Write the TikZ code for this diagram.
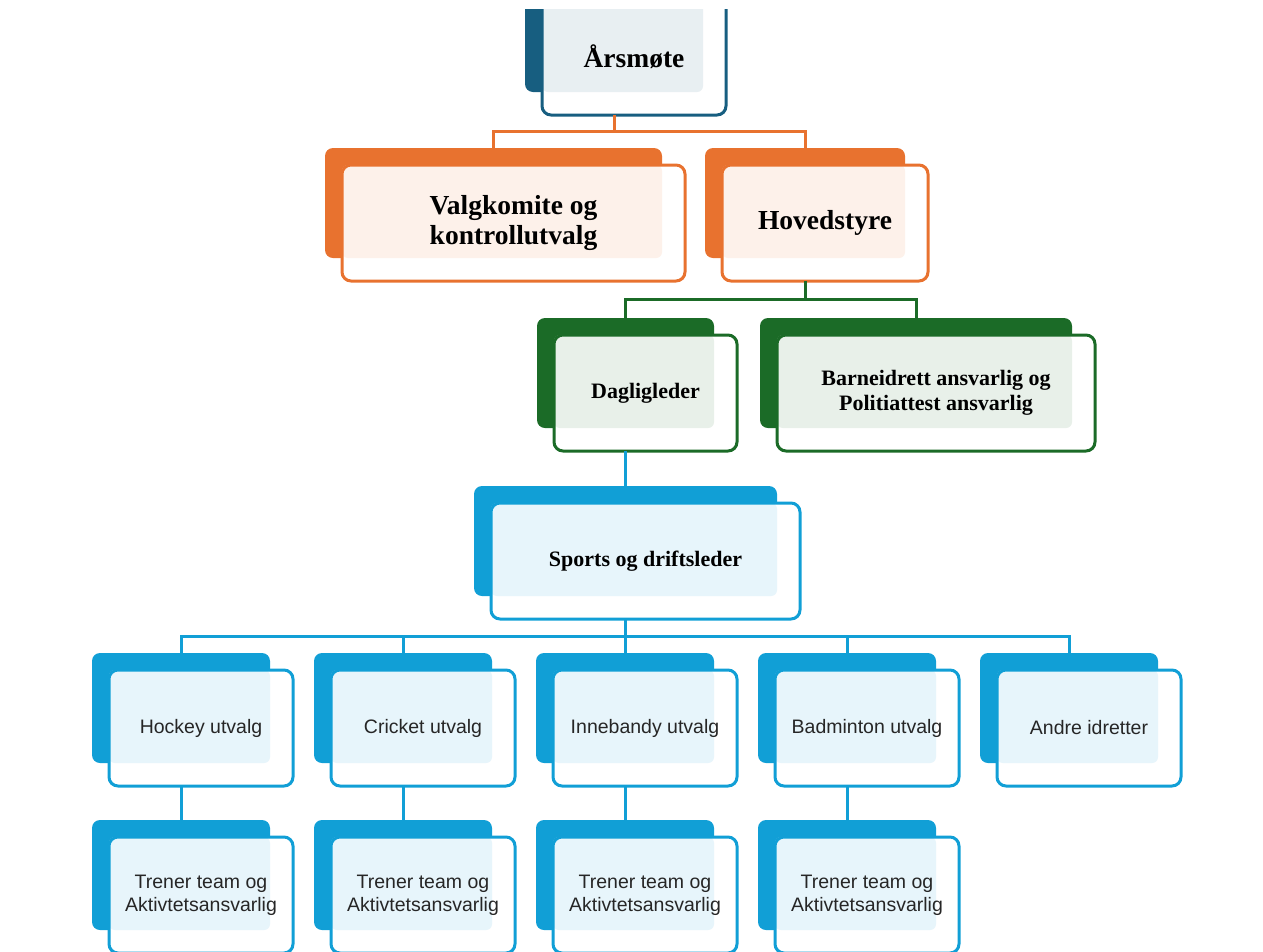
\documentclass[tikz,border=0pt]{standalone}
\usepackage{fontspec}
\setmainfont{Liberation Serif}
\newfontfamily\labelsans{Liberation Sans}
\usetikzlibrary{calc, positioning}

\definecolor{moteblue}{HTML}{175E80}
\definecolor{valgorange}{HTML}{E8722F}
\definecolor{styregreen}{HTML}{1B6B27}
\definecolor{sportblue}{HTML}{119FD6}
\definecolor{labelgrey}{HTML}{262626}

% #1 name, #2 top left of the solid shape, #3 its width, #4 colour, #5 text style, #6 text
\newcommand{\orgbox}[6]{%
    \node[backbox, fill=#4, minimum width=#3pt, anchor=north west] (#1-back) at #2 {};
    \fill[white, rounded corners=9pt] ($(#1-back.north west)+(17,17)$) rectangle ++(#3+6, 116);
    \fill[#4!10, rounded corners=6pt] ($(#1-back.north west)+(17,17)$) rectangle (#1-back.south east);
    \node[frontbox, draw=#4, minimum width={#3pt+6pt}, #5, anchor=north west] (#1) at ($(#1-back.north west)+(17,17)$) {#6};
}

\begin{document}
\begin{tikzpicture}[x=1pt, y=-1pt,
        backbox/.style={rectangle, rounded corners=8pt, minimum height=110pt, inner sep=0pt, outer sep=0pt},
        frontbox/.style={rectangle, rounded corners=9pt, line width=3pt, minimum height=116pt, inner sep=0pt, outer sep=0pt, align=center},
        headtext/.style={font=\bfseries\fontsize{27.5}{30}\selectfont},
        midtext/.style={font=\bfseries\fontsize{22}{25}\selectfont},
        unittext/.style={font=\labelsans\fontsize{19.5}{23}\selectfont, text=labelgrey},
        link/.style={line width=3pt}]
    \useasboundingbox (0,0) rectangle (1263,951);

    \begin{scope}
        \clip (0,9) rectangle (1263,951);

        % Top levels
        \orgbox{aars}{(525,-18)}{178}{moteblue}{headtext}{Årsmøte}
        \orgbox{valg}{(325,148)}{337}{valgorange}{headtext}{Valgkomite og\\kontrollutvalg}
        \orgbox{hoved}{(705,148)}{200}{valgorange}{headtext}{Hovedstyre}
        \orgbox{daglig}{(537,318)}{177}{styregreen}{midtext}{Dagligleder}
        \orgbox{barne}{(760,318)}{312}{styregreen}{midtext}{Barneidrett ansvarlig og\\Politiattest ansvarlig}
        \orgbox{sport}{(474,486)}{303}{sportblue}{midtext}{Sports og driftsleder}

        % Utvalg row
        \foreach \i/\grp/\txt in {0/hockey/Hockey utvalg, 1/cricket/Cricket utvalg, 2/inne/Innebandy utvalg, 3/badm/Badminton utvalg, 4/andre/Andre idretter} {
            \orgbox{\grp}{(92+222*\i, 653)}{178}{sportblue}{unittext}{\txt}
        }

        % Trener row
        \foreach \i in {0,...,3} {
            \orgbox{trener\i}{(92+222*\i, 820)}{178}{sportblue}{unittext}{Trener team og\\Aktivtetsansvarlig}
        }

        % Bus levels
        \coordinate (bus1) at ($(aars.south)!0.5!(valg-back.north)$);
        \coordinate (bus2) at ($(hoved.south)!0.5!(daglig-back.north)$);
        \coordinate (bus3) at ($(sport.south)!0.5!(hockey-back.north)$);

        % Connectors
        \draw[link, valgorange] (aars-back |- aars.south) -- (aars-back |- bus1);
        \draw[link, valgorange] (valg-back.north) |- (bus1) -| (hoved-back.north);
        \draw[link, styregreen] (hoved-back |- hoved.south) -- (hoved-back |- bus2);
        \draw[link, styregreen] (daglig-back.north) |- (bus2) -| (barne-back.north);
        \draw[link, sportblue] (daglig-back |- daglig.south) -- (sport-back.north);
        \draw[link, sportblue] (sport-back |- sport.south) -- (sport-back |- bus3);
        \draw[link, sportblue] (hockey-back.north) |- (bus3) -| (andre-back.north);
        \foreach \grp in {cricket, inne, badm} {
            \draw[link, sportblue] (\grp-back.north) -- (\grp-back.north |- bus3);
        }
        \foreach \grp/\i in {hockey/0, cricket/1, inne/2, badm/3} {
            \draw[link, sportblue] (\grp-back |- \grp.south) -- (trener\i-back.north);
        }
    \end{scope}
\end{tikzpicture}
\end{document}
